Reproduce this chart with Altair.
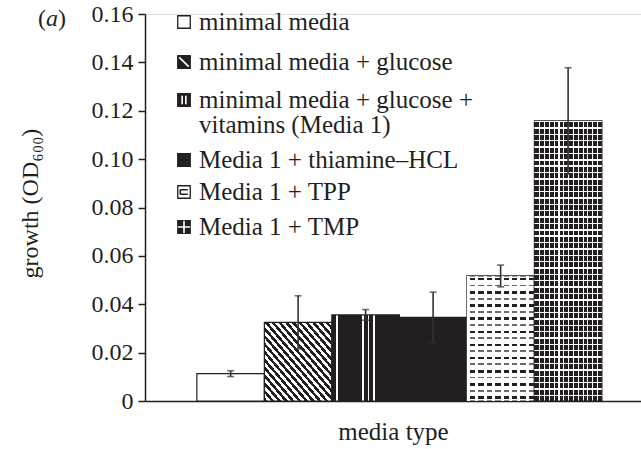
import altair as alt
import pandas as pd

# Growth of the strain on six media (OD600), mean and error
media = [
    "minimal media",
    "minimal media + glucose",
    "minimal media + glucose +\nvitamins (Media 1)",
    "Media 1 + thiamine–HCL",
    "Media 1 + TPP",
    "Media 1 + TMP",
]
growth = [0.0113, 0.0325, 0.0356, 0.0346, 0.0517, 0.1158]
error = [0.0012, 0.011, 0.0022, 0.0104, 0.0045, 0.022]

y_ticks = [0, 0.02, 0.04, 0.06, 0.08, 0.10, 0.12, 0.14, 0.16]

INK = "#231f20"
FONT = "Liberation Serif, Times New Roman, Times, serif"
W, H = 496, 387

df = pd.DataFrame({"media": media, "growth": growth, "err": error})


def stripes(n, duty, on, off):
    """Hard-edged repeating stops for a linear gradient."""
    stops = []
    for k in range(n):
        a = k / n
        b = (k + duty) / n
        c = (k + 1) / n
        stops += [
            {"offset": a, "color": on},
            {"offset": b, "color": on},
            {"offset": b, "color": off},
            {"offset": c, "color": off},
        ]
    return stops


def gradient(stops, x1, y1, x2, y2):
    return {"gradient": "linear", "x1": x1, "y1": y1, "x2": x2, "y2": y2, "stops": stops}


CLEAR = "rgba(255,255,255,0)"

# vertical white hairlines on black for the Media 1 bar
media1_lines = [(0.064, 0.085), (0.45, 0.47), (0.53, 0.55), (0.615, 0.64)]
m1_stops = [{"offset": 0, "color": INK}]
for a, b in media1_lines:
    m1_stops += [
        {"offset": a, "color": INK},
        {"offset": a, "color": "white"},
        {"offset": b, "color": "white"},
        {"offset": b, "color": INK},
    ]
m1_stops.append({"offset": 1, "color": INK})

# brick rows for TPP: alternating heavy and light rows
tpp_rows = []
n_rows = 19
for k in range(n_rows):
    col = INK if k % 2 == 0 else "#6b6b6b"
    duty = 0.38 if k % 2 == 0 else 0.28
    a, b, c = k / n_rows, (k + 0.3) / n_rows, (k + 0.3 + duty) / n_rows
    tpp_rows += [
        {"offset": a, "color": "white"},
        {"offset": b, "color": "white"},
        {"offset": b, "color": col},
        {"offset": min(c, 1), "color": col},
        {"offset": min(c, 1), "color": "white"},
        {"offset": (k + 1) / n_rows, "color": "white"},
    ]

fills = [
    ["white"],
    [gradient(stripes(20, 0.5, INK, "white"), 0, 1, 1, 0)],
    [gradient(m1_stops, 0, 0, 1, 0)],
    [INK],
    [gradient(tpp_rows, 0, 0, 0, 1), gradient(stripes(8, 0.35, "white", CLEAR), 0, 0, 1, 0)],
    [gradient(stripes(14, 0.22, "white", INK), 0, 0, 1, 0),
     gradient(stripes(44, 0.22, "white", CLEAR), 0, 0, 0, 1)],
]

x_enc = alt.X(
    "media:N",
    sort=media,
    scale=alt.Scale(domain=media, paddingInner=0, paddingOuter=0.674, align=0.57),
    axis=alt.Axis(
        title="media type", labels=False, ticks=False, domain=True,
        domainColor=INK, domainWidth=1.5, titleFont=FONT, titleFontSize=25,
        titleFontWeight="normal", titleColor=INK, titlePadding=18,
    ),
)
y_enc = alt.Y(
    "growth:Q",
    scale=alt.Scale(domain=[0, 0.16], nice=False),
    axis=alt.Axis(
        title="growth (OD₆₀₀)", values=y_ticks, grid=False,
        labelExpr="datum.value == 0 ? '0' : format(datum.value, '.2f')",
        labelFont=FONT, labelFontSize=24, labelColor=INK, labelPadding=5,
        tickSize=7, tickColor=INK, tickWidth=1.5, domainColor=INK, domainWidth=1.5,
        titleFont=FONT, titleFontSize=24, titleFontWeight="normal", titleColor=INK,
        titleAngle=-90, titleAlign="center", titleBaseline="middle",
        titleX=-115, titleY=189,
    ),
)

base = alt.Chart(df).encode(x=x_enc, y=y_enc)

layers = []
for name, fill_list in zip(media, fills):
    for i, f in enumerate(fill_list):
        layers.append(
            base.transform_filter(alt.datum.media == name).mark_bar(
                fill=f,
                stroke=INK if i == 0 else CLEAR,
                strokeWidth=1.2,
                opacity=1,
            )
        )

err_base = base.transform_calculate(
    lo="datum.growth - datum.err", hi="datum.growth + datum.err"
)
layers.append(
    err_base.mark_rule(color="#333333", strokeWidth=1.6).encode(
        y="lo:Q", y2="hi:Q"
    )
)
layers.append(
    err_base.mark_tick(color="#333333", size=7, thickness=1.6).encode(y="hi:Q")
)
layers.append(
    err_base.mark_tick(color="#333333", size=7, thickness=1.6).encode(y="lo:Q")
)

# hand-drawn key in the upper left of the plot
key_rows = [8, 48, 86, 146, 178, 213]
sq = "M-1,-1H1V1H-1Z"
key_fill = ["white", INK, INK, INK, "white", INK]
key_mark = [
    "M0,0",
    "M-0.75,-0.75L0.75,0.75",
    "M-0.3,-0.7V0.7M0.3,-0.7V0.7",
    "M0,0",
    "M-0.6,-0.35H0.6M-0.6,0.35H0.6M-0.6,-0.35V0.35",
    "M0,-1V1M-1,0H1",
]
key_mark_color = ["white", "white", "white", INK, INK, "white"]
key = pd.DataFrame({
    "label": media,
    "ky": key_rows,
    "ty": [r + 8 for r in key_rows],
    "sq": [sq] * 6,
    "fill": key_fill,
    "inner": key_mark,
    "inner_c": key_mark_color,
})
kbase = alt.Chart(key).encode(x=alt.value(39))
layers.append(
    kbase.mark_point(filled=True, stroke=INK, strokeWidth=1.3, size=156, opacity=1).encode(
        y=alt.Y("ky:Q", scale=None),
        shape=alt.Shape("sq:N", scale=None),
        fill=alt.Fill("fill:N", scale=None),
    )
)
layers.append(
    kbase.mark_point(filled=False, strokeWidth=1.6, size=156, opacity=1).encode(
        y=alt.Y("ky:Q", scale=None),
        shape=alt.Shape("inner:N", scale=None),
        stroke=alt.Stroke("inner_c:N", scale=None),
    )
)
layers.append(
    alt.Chart(key).mark_text(
        align="left", baseline="alphabetic", font=FONT, fontSize=25,
        color=INK, lineBreak="\n", lineHeight=25,
    ).encode(x=alt.value(54), y=alt.Y("ty:Q", scale=None), text="label:N")
)

# panel tag "(a)"
tag = pd.DataFrame({"t": ["("], "u": ["a"], "v": [")"]})
layers.append(alt.Chart(tag).mark_text(font=FONT, fontSize=24, color=INK, align="left",
                                      baseline="alphabetic").encode(
    x=alt.value(-107), y=alt.value(12), text="t:N"))
layers.append(alt.Chart(tag).mark_text(font=FONT, fontSize=24, color=INK, align="left",
                                      baseline="alphabetic", fontStyle="italic").encode(
    x=alt.value(-99), y=alt.value(12), text="u:N"))
layers.append(alt.Chart(tag).mark_text(font=FONT, fontSize=24, color=INK, align="left",
                                      baseline="alphabetic").encode(
    x=alt.value(-87), y=alt.value(12), text="v:N"))

chart = alt.layer(*layers).properties(
    width=W,
    height=H,
    padding={"left": 145, "top": 14, "right": 0, "bottom": 48},
    autosize=alt.AutoSizeParams(type="none"),
).configure_view(stroke=None).configure(background="white")

chart.save("out.html", embed_options={"renderer": "svg", "actions": False})
